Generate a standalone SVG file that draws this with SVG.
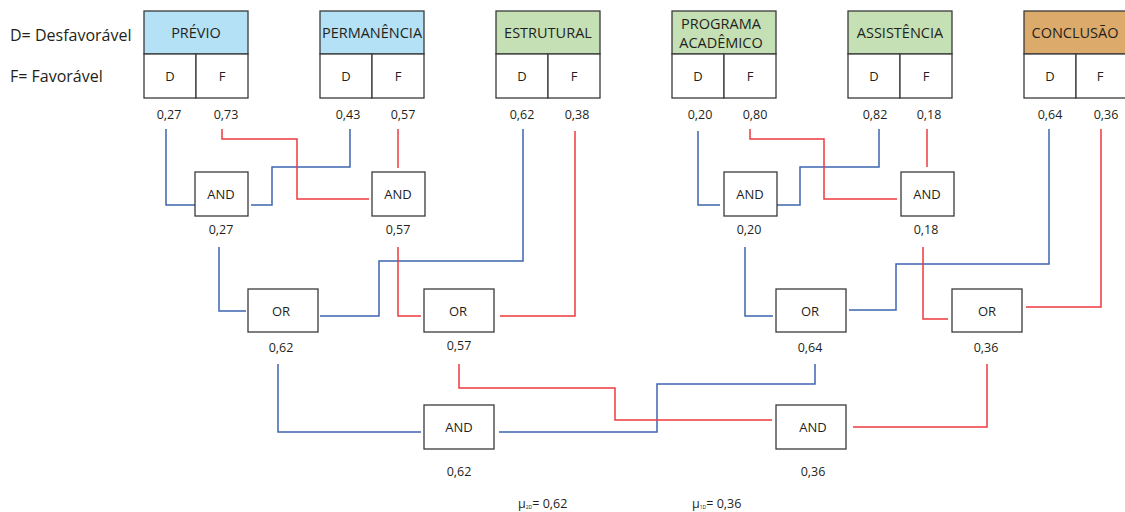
<svg xmlns="http://www.w3.org/2000/svg" width="1125" height="512" viewBox="0 0 1125 512">
<style>
text{font-family:"Open Sans","Noto Sans","Liberation Sans",sans-serif;fill:#231f20}
.hd{font-size:14.5px;text-anchor:middle}
.cell{fill:#fff;stroke:#3a3a3a;stroke-width:1.3}
.gate{fill:#fff;stroke:#3a3a3a;stroke-width:1.3}
.gt{font-size:13px;text-anchor:middle}
.v{font-size:12.5px;text-anchor:middle}
.lg{font-size:16px}
.b{fill:none;stroke:#3e66b0;stroke-width:1.5}
.r{fill:none;stroke:#ee3a3e;stroke-width:1.5}
</style>
<rect width="1125" height="512" fill="#fff"/>
<g id="legend">
<text class="lg" x="10" y="41">D= Desfavorável</text>
<text class="lg" x="10" y="82">F= Favorável</text>
</g>
<g id="previo">
<rect class="cell" x="144" y="11" width="104" height="43" style="fill:#b5e1f6"/>
<rect class="cell" x="144" y="54" width="52" height="44"/><rect class="cell" x="196" y="54" width="52" height="44"/>
<text class="hd" x="196" y="38">PRÉVIO</text>
<text class="gt" x="170" y="81">D</text><text class="gt" x="222" y="81">F</text>
<text class="v" x="169" y="119">0,27</text><text class="v" x="226" y="119">0,73</text>
</g>
<g id="permanencia">
<rect class="cell" x="320" y="11" width="104" height="43" style="fill:#b5e1f6"/>
<rect class="cell" x="320" y="54" width="52" height="44"/><rect class="cell" x="372" y="54" width="52" height="44"/>
<text class="hd" x="372" y="38">PERMANÊNCIA</text>
<text class="gt" x="346" y="81">D</text><text class="gt" x="398" y="81">F</text>
<text class="v" x="348" y="119">0,43</text><text class="v" x="403" y="119">0,57</text>
</g>
<g id="estrutural">
<rect class="cell" x="496" y="11" width="104" height="43" style="fill:#c5e0b4"/>
<rect class="cell" x="496" y="54" width="52" height="44"/><rect class="cell" x="548" y="54" width="52" height="44"/>
<text class="hd" x="548" y="38">ESTRUTURAL</text>
<text class="gt" x="522" y="81">D</text><text class="gt" x="574" y="81">F</text>
<text class="v" x="522" y="119">0,62</text><text class="v" x="577" y="119">0,38</text>
</g>
<g id="programa">
<rect class="cell" x="672" y="11" width="104" height="43" style="fill:#c5e0b4"/>
<rect class="cell" x="672" y="54" width="52" height="44"/><rect class="cell" x="724" y="54" width="52" height="44"/>
<text class="hd" x="721" y="29">PROGRAMA</text>
<text class="hd" x="721" y="48">ACADÊMICO</text>
<text class="gt" x="698" y="81">D</text><text class="gt" x="750" y="81">F</text>
<text class="v" x="700" y="119">0,20</text><text class="v" x="755" y="119">0,80</text>
</g>
<g id="assistencia">
<rect class="cell" x="848" y="11" width="104" height="43" style="fill:#c5e0b4"/>
<rect class="cell" x="848" y="54" width="52" height="44"/><rect class="cell" x="900" y="54" width="52" height="44"/>
<text class="hd" x="900" y="38">ASSISTÊNCIA</text>
<text class="gt" x="874" y="81">D</text><text class="gt" x="926" y="81">F</text>
<text class="v" x="875" y="119">0,82</text><text class="v" x="929" y="119">0,18</text>
</g>
<g id="conclusao">
<rect class="cell" x="1024" y="11" width="104" height="43" style="fill:#dcab6b"/>
<rect class="cell" x="1024" y="54" width="52" height="44"/><rect class="cell" x="1076" y="54" width="52" height="44"/>
<text class="hd" x="1075" y="38">CONCLUSÃO</text>
<text class="gt" x="1050" y="81">D</text><text class="gt" x="1100" y="81">F</text>
<text class="v" x="1050" y="119">0,64</text><text class="v" x="1106" y="119">0,36</text>
</g>
<g id="connectors">
<path class="b" d="M166,129 V205 H195"/>
<path class="b" d="M350,129 V167 H272 V205 H251"/>
<path class="r" d="M222,129 V139 H297 V199 H369"/>
<path class="r" d="M398,129 V168"/>
<path class="b" d="M219,247 V311 H246"/>
<path class="b" d="M523,129 V261 H379 V316 H320"/>
<path class="r" d="M575,131 V316 H500"/>
<path class="r" d="M398,247 V316 H421"/>
<path class="b" d="M698,131 V205 H720"/>
<path class="b" d="M879,129 V167 H800 V205 H777"/>
<path class="r" d="M750,129 V139 H824 V199 H897"/>
<path class="r" d="M927,129 V167"/>
<path class="b" d="M745,247 V316 H773"/>
<path class="b" d="M1049,129 V264 H896 V310 H849"/>
<path class="r" d="M923,247 V319 H948"/>
<path class="r" d="M1101,129 V307 H1026"/>
<path class="b" d="M278,364 V432 H421"/>
<path class="b" d="M815,364 V384 H657 V432 H499"/>
<path class="r" d="M459,364 V388 H615 V420 H772"/>
<path class="r" d="M987,364 V427 H853"/>
</g>
<g id="and1"><rect class="gate" x="195" y="172" width="53" height="44"/><text class="gt" x="221" y="199">AND</text><text class="v" x="221" y="234">0,27</text></g>
<g id="and2"><rect class="gate" x="372" y="172" width="53" height="44"/><text class="gt" x="398" y="199">AND</text><text class="v" x="398" y="234">0,57</text></g>
<g id="and3"><rect class="gate" x="724" y="172" width="53" height="44"/><text class="gt" x="750" y="199">AND</text><text class="v" x="749" y="234">0,20</text></g>
<g id="and4"><rect class="gate" x="901" y="172" width="53" height="44"/><text class="gt" x="927" y="199">AND</text><text class="v" x="926" y="234">0,18</text></g>
<g id="or1"><rect class="gate" x="248" y="289" width="70" height="43"/><text class="gt" x="281" y="316">OR</text><text class="v" x="281" y="352">0,62</text></g>
<g id="or2"><rect class="gate" x="424" y="289" width="70" height="43"/><text class="gt" x="458" y="316">OR</text><text class="v" x="459" y="350">0,57</text></g>
<g id="or3"><rect class="gate" x="776" y="289" width="70" height="43"/><text class="gt" x="810" y="316">OR</text><text class="v" x="810" y="352">0,64</text></g>
<g id="or4"><rect class="gate" x="952" y="289" width="70" height="43"/><text class="gt" x="987" y="316">OR</text><text class="v" x="986" y="352">0,36</text></g>
<g id="and5"><rect class="gate" x="424" y="405" width="70" height="44"/><text class="gt" x="459" y="432">AND</text><text class="v" x="459" y="476">0,62</text></g>
<g id="and6"><rect class="gate" x="776" y="405" width="70" height="44"/><text class="gt" x="813" y="432">AND</text><text class="v" x="813" y="476">0,36</text></g>
<g id="results">
<text x="518" y="508" style="font-size:12.5px">μ<tspan style="font-size:5px" dy="1">2D</tspan><tspan dy="-1">= 0,62</tspan></text>
<text x="692" y="508" style="font-size:12.5px">μ<tspan style="font-size:5px" dy="1">1D</tspan><tspan dy="-1">= 0,36</tspan></text>
</g>
</svg>
